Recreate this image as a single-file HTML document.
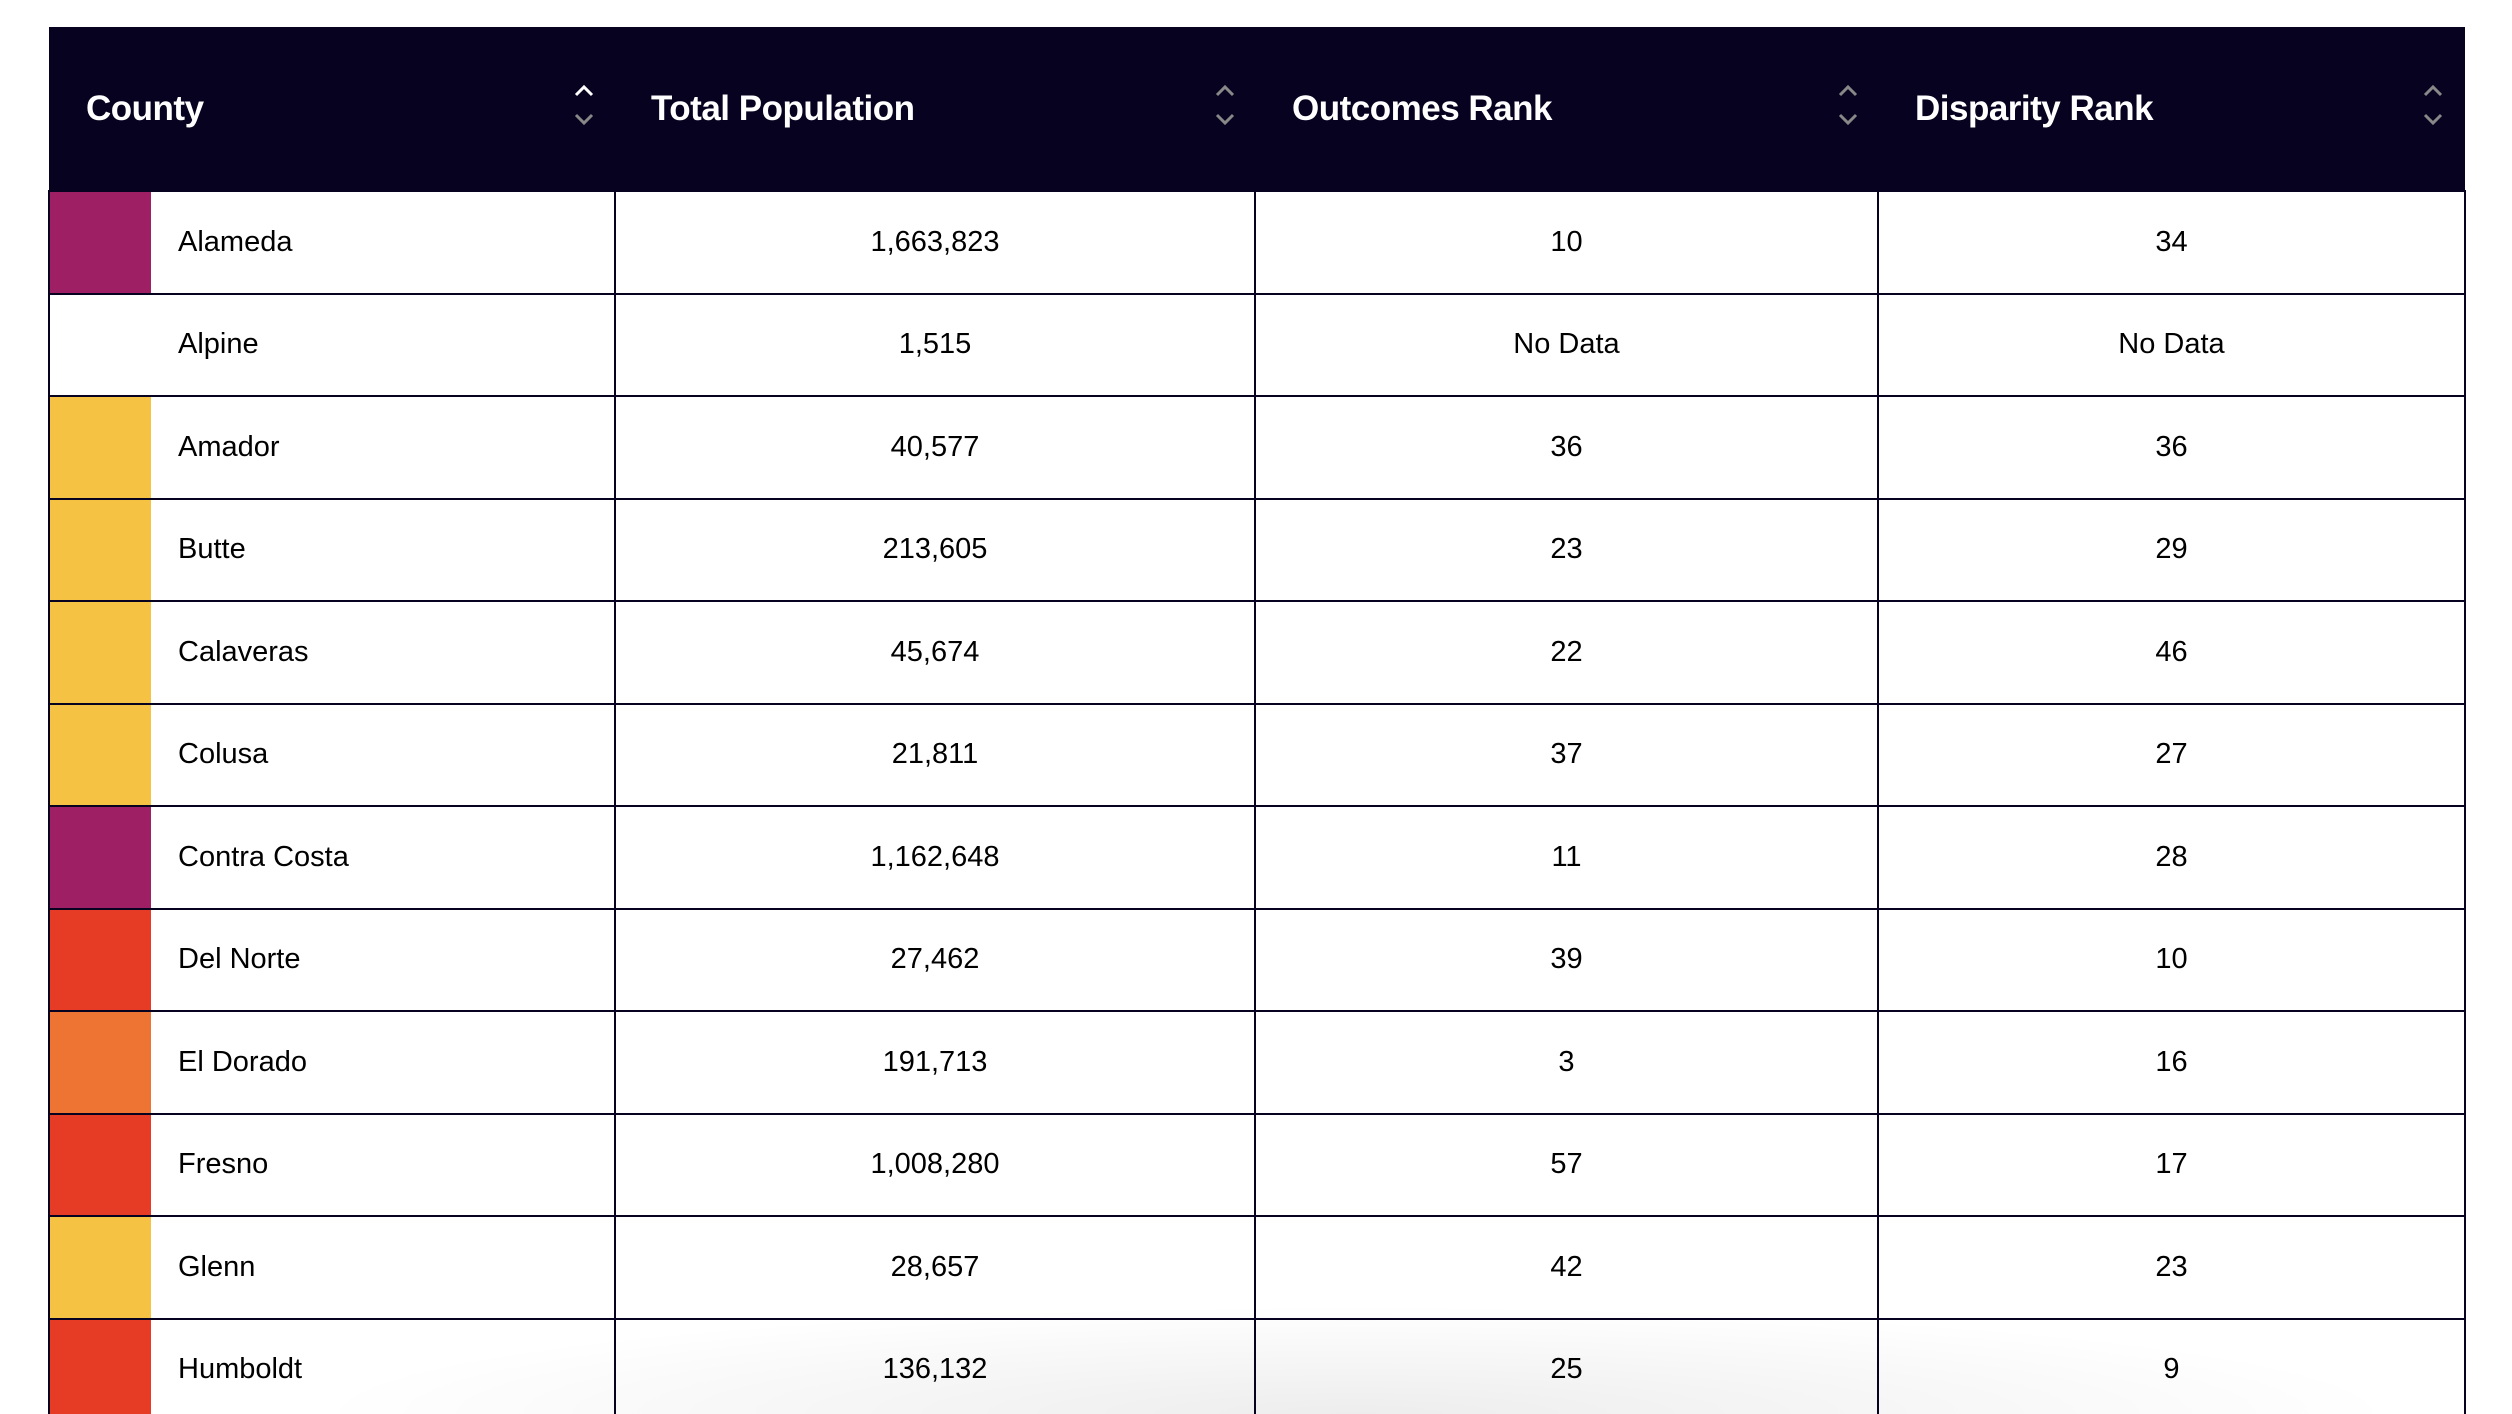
<!DOCTYPE html>
<html style="width:2512px;height:1414px;overflow:hidden"><head><style>
*{margin:0;padding:0;box-sizing:border-box}
body{width:2512px;height:1414px;background:#fff;overflow:hidden;font-family:"Liberation Sans",sans-serif}
#w{position:relative;width:2512px;height:1414px;overflow:hidden}
table{position:absolute;left:48px;top:27px;width:2416px;border-collapse:collapse;table-layout:fixed}
th{background:#07021f;color:#fff;height:164px;font-size:35px;font-weight:bold;text-align:left;position:relative;letter-spacing:-0.5px}
th span.t{position:absolute;top:50%;transform:translateY(-50%)}
.ar{position:absolute;top:54px;width:24px;height:50px}
td{height:102.5px;border:2px solid #07021f;font-size:29px;color:#000;text-align:center;padding:0}
tr.last td{height:140px;padding-bottom:38px}
td.n{text-align:left;position:relative;padding-left:128px}
td.n i{position:absolute;left:0;top:0;bottom:0;width:101px}
.sh{position:absolute;left:300px;right:100px;bottom:0;height:110px;background:radial-gradient(ellipse at 50% 100%,rgba(0,0,0,0.07),rgba(0,0,0,0) 70%);pointer-events:none}
</style></head><body><div id="w">
<table>
<colgroup><col style="width:566px"><col style="width:640px"><col style="width:623px"><col style="width:587px"></colgroup>
<tr>
<th><span class="t" style="left:37px">County</span><svg class="ar" style="left:523px" viewBox="0 0 24 50"><path d="M4 14 L12 6 L20 14" stroke="#fff" stroke-width="3" fill="none"/><path d="M4 34 L12 42 L20 34" stroke="#888" stroke-width="3" fill="none"/></svg></th>
<th><span class="t" style="left:36px">Total Population</span><svg class="ar" style="left:598px" viewBox="0 0 24 50"><path d="M4 14 L12 6 L20 14" stroke="#888" stroke-width="3" fill="none"/><path d="M4 34 L12 42 L20 34" stroke="#888" stroke-width="3" fill="none"/></svg></th>
<th><span class="t" style="left:37px">Outcomes Rank</span><svg class="ar" style="left:581px" viewBox="0 0 24 50"><path d="M4 14 L12 6 L20 14" stroke="#888" stroke-width="3" fill="none"/><path d="M4 34 L12 42 L20 34" stroke="#888" stroke-width="3" fill="none"/></svg></th>
<th><span class="t" style="left:37px">Disparity Rank</span><svg class="ar" style="left:543px" viewBox="0 0 24 50"><path d="M4 14 L12 6 L20 14" stroke="#888" stroke-width="3" fill="none"/><path d="M4 34 L12 42 L20 34" stroke="#888" stroke-width="3" fill="none"/></svg></th>
</tr>
<tr><td class="n"><i style="background:#9e1f63"></i>Alameda</td><td>1,663,823</td><td>10</td><td>34</td></tr>
<tr><td class="n"><i></i>Alpine</td><td>1,515</td><td>No Data</td><td>No Data</td></tr>
<tr><td class="n"><i style="background:#f5c243"></i>Amador</td><td>40,577</td><td>36</td><td>36</td></tr>
<tr><td class="n"><i style="background:#f5c243"></i>Butte</td><td>213,605</td><td>23</td><td>29</td></tr>
<tr><td class="n"><i style="background:#f5c243"></i>Calaveras</td><td>45,674</td><td>22</td><td>46</td></tr>
<tr><td class="n"><i style="background:#f5c243"></i>Colusa</td><td>21,811</td><td>37</td><td>27</td></tr>
<tr><td class="n"><i style="background:#9e1f63"></i>Contra Costa</td><td>1,162,648</td><td>11</td><td>28</td></tr>
<tr><td class="n"><i style="background:#e63b24"></i>Del Norte</td><td>27,462</td><td>39</td><td>10</td></tr>
<tr><td class="n"><i style="background:#ee7433"></i>El Dorado</td><td>191,713</td><td>3</td><td>16</td></tr>
<tr><td class="n"><i style="background:#e63b24"></i>Fresno</td><td>1,008,280</td><td>57</td><td>17</td></tr>
<tr><td class="n"><i style="background:#f5c243"></i>Glenn</td><td>28,657</td><td>42</td><td>23</td></tr>
<tr class="last"><td class="n"><i style="background:#e63b24"></i>Humboldt</td><td>136,132</td><td>25</td><td>9</td></tr>
</table>
<div class="sh"></div>
</div></body></html>
